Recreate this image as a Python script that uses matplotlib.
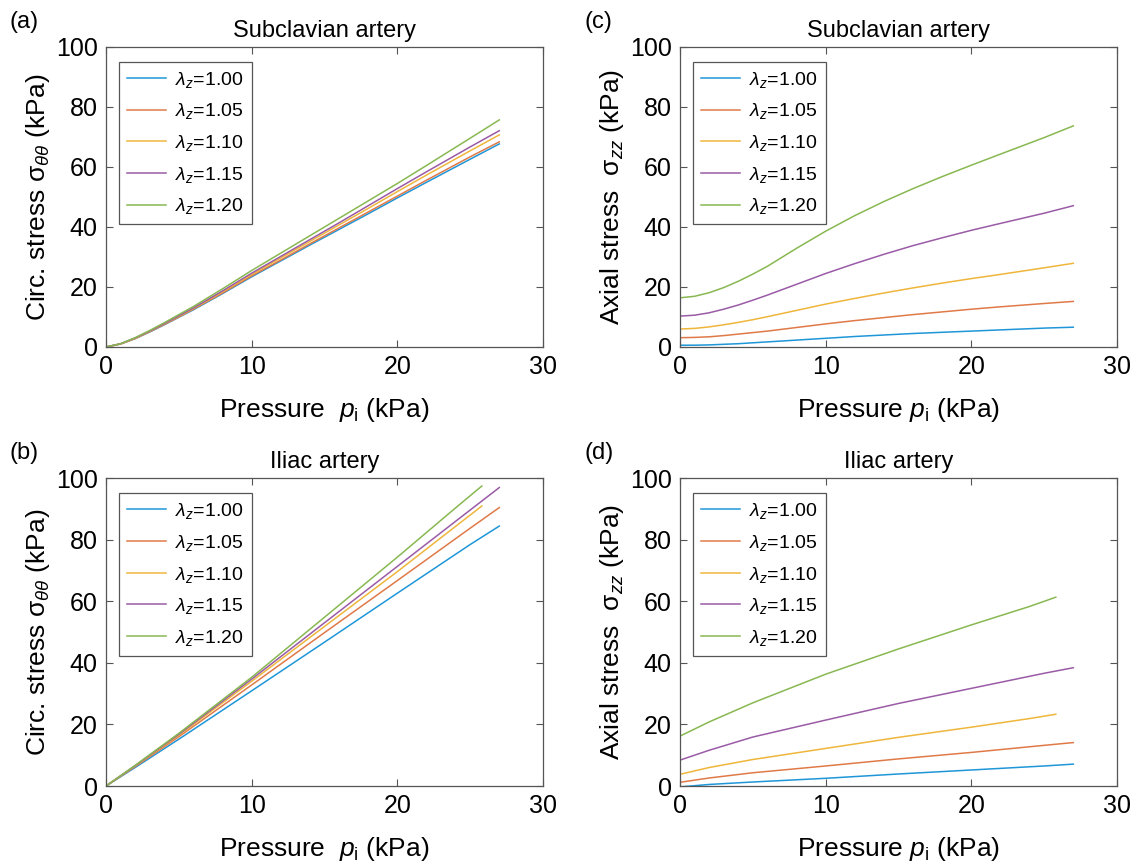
import matplotlib
matplotlib.use('Agg')
import matplotlib.pyplot as plt
import numpy as np

plt.rcParams['font.family'] = ['Liberation Sans', 'DejaVu Sans']
plt.rcParams['mathtext.fontset'] = 'custom'
plt.rcParams['mathtext.rm'] = 'Liberation Sans'
plt.rcParams['mathtext.it'] = 'Liberation Sans:italic'
plt.rcParams['mathtext.bf'] = 'Liberation Sans:bold'

# 数据
lam_labels = ['1.00', '1.05', '1.10', '1.15', '1.20']
colors = ['#1f96d8', '#df7a48', '#efb63c', '#9a5ba6', '#88b851']

# 锁骨下动脉 (Subclavian)
x_sub = [0, 1, 2, 3, 4, 5, 6, 8, 10, 12, 14, 16, 18, 20, 22, 25, 27]
circ_sub = [
    [0, 1.0, 2.8, 5.0, 7.4, 9.9, 12.4, 17.8, 23.4, 28.7, 34.0, 39.2, 44.4, 49.7, 54.9, 62.6, 67.7],
    [0, 1.0, 2.8, 5.1, 7.5, 10.0, 12.6, 18.0, 23.7, 29.0, 34.4, 39.7, 45.0, 50.3, 55.6, 63.4, 68.4],
    [0, 1.0, 2.9, 5.2, 7.7, 10.2, 12.8, 18.4, 24.2, 29.7, 35.2, 40.7, 46.2, 51.8, 57.3, 65.4, 70.7],
    [0, 1.1, 3.0, 5.3, 7.8, 10.4, 13.0, 18.7, 24.6, 30.2, 35.8, 41.4, 47.1, 52.8, 58.4, 66.7, 72.1],
    [0, 1.1, 3.1, 5.5, 8.1, 10.8, 13.5, 19.4, 25.5, 31.3, 37.1, 42.9, 48.7, 54.5, 60.5, 69.6, 75.7],
]
axial_sub = [
    [0.6, 0.6, 0.7, 0.9, 1.1, 1.4, 1.7, 2.3, 2.9, 3.5, 4.0, 4.5, 4.9, 5.3, 5.7, 6.3, 6.6],
    [3.1, 3.2, 3.4, 3.8, 4.3, 4.8, 5.3, 6.5, 7.7, 8.8, 9.8, 10.8, 11.7, 12.6, 13.4, 14.5, 15.2],
    [6.0, 6.2, 6.7, 7.4, 8.2, 9.1, 10.1, 12.2, 14.3, 16.2, 18.0, 19.7, 21.3, 22.8, 24.2, 26.4, 27.9],
    [10.3, 10.6, 11.4, 12.6, 14.0, 15.6, 17.3, 20.9, 24.5, 27.8, 30.9, 33.8, 36.4, 38.9, 41.2, 44.6, 47.1],
    [16.4, 16.9, 18.1, 19.8, 21.9, 24.3, 26.9, 32.9, 38.6, 43.8, 48.5, 52.8, 56.8, 60.6, 64.3, 69.8, 73.7],
]

# 髂动脉 (Iliac)
x_il_long = [0, 2, 5, 10, 15, 20, 25, 27]
x_il_short = [0, 2, 5, 10, 15, 20, 24, 25.8]
x_il = [x_il_long, x_il_long, x_il_short, x_il_long, x_il_short]
circ_il = [
    [0, 6.0, 15.2, 30.9, 46.7, 62.6, 78.4, 84.4],
    [0, 6.3, 16.0, 32.8, 49.8, 66.7, 83.7, 90.4],
    [0, 6.5, 16.5, 34.0, 51.8, 69.6, 84.3, 90.9],
    [0, 6.6, 16.8, 34.7, 53.0, 71.3, 89.6, 96.9],
    [0, 6.7, 17.1, 35.3, 54.8, 74.3, 90.3, 97.4],
]
axial_il = [
    [-0.3, 0.5, 1.3, 2.5, 3.9, 5.2, 6.5, 7.1],
    [1.2, 2.6, 4.3, 6.5, 8.8, 10.9, 13.2, 14.1],
    [3.8, 6.0, 8.6, 12.2, 15.8, 19.1, 21.9, 23.3],
    [8.4, 11.6, 15.9, 21.4, 26.8, 31.7, 36.6, 38.4],
    [16.2, 20.8, 27.0, 36.3, 44.5, 52.3, 58.3, 61.3],
]

W, H = 1135, 865
fig = plt.figure(figsize=(W / 100, H / 100), dpi=100)


def make_ax(left, top, right, bottom):
    return fig.add_axes([left / W, 1 - bottom / H, (right - left) / W, (bottom - top) / H])


ax_a = make_ax(106, 47, 543, 347)
ax_c = make_ax(680, 47, 1117, 347)
ax_b = make_ax(106, 478, 543, 786)
ax_d = make_ax(680, 478, 1117, 786)

panels = [
    (ax_a, [x_sub] * 5, circ_sub, 'Subclavian artery', r'Circ. stress σ$_{\theta\theta}$ (kPa)',
     r'Pressure  $p_\mathrm{i}$ (kPa)', '(a)'),
    (ax_c, [x_sub] * 5, axial_sub, 'Subclavian artery', r'Axial stress  σ$_{zz}$ (kPa)',
     r'Pressure $p_\mathrm{i}$ (kPa)', '(c)'),
    (ax_b, x_il, circ_il, 'Iliac artery', r'Circ. stress σ$_{\theta\theta}$ (kPa)',
     r'Pressure  $p_\mathrm{i}$ (kPa)', '(b)'),
    (ax_d, x_il, axial_il, 'Iliac artery', r'Axial stress  σ$_{zz}$ (kPa)',
     r'Pressure $p_\mathrm{i}$ (kPa)', '(d)'),
]

for ax, xs, ys, title, ylab, xlab, tag in panels:
    for i in range(5):
        ax.plot(xs[i], ys[i], color=colors[i], lw=1.1, label=r'$\lambda_z$=' + lam_labels[i])
    ax.set_xlim(0, 30)
    ax.set_ylim(0, 100)
    ax.set_xticks([0, 10, 20, 30])
    ax.set_yticks([0, 20, 40, 60, 80, 100])
    ax.tick_params(direction='in', top=True, right=True, length=5, width=0.8,
                   color='#555555', labelsize=18, pad=6)
    for sp in ax.spines.values():
        sp.set_color('#555555')
        sp.set_linewidth(0.9)
    ax.set_title(title, fontsize=17, pad=7)
    ax.set_ylabel(ylab, fontsize=19, labelpad=3)
    ax.set_xlabel(xlab, fontsize=19, labelpad=12)
    leg = ax.legend(loc='upper left', bbox_to_anchor=(0.03, 0.95), fontsize=14,
                    frameon=True, fancybox=False, edgecolor='#555555', framealpha=1,
                    handlelength=2.0, labelspacing=0.6, borderpad=0.4, handletextpad=0.5,
                    borderaxespad=0)
    leg.get_frame().set_linewidth(0.9)
    pos = ax.get_position()
    fig.text(pos.x0 - 96 / W, pos.y1 + 25 / H, tag, fontsize=17, ha='left', va='center')

fig.savefig('out.png', dpi=100)
